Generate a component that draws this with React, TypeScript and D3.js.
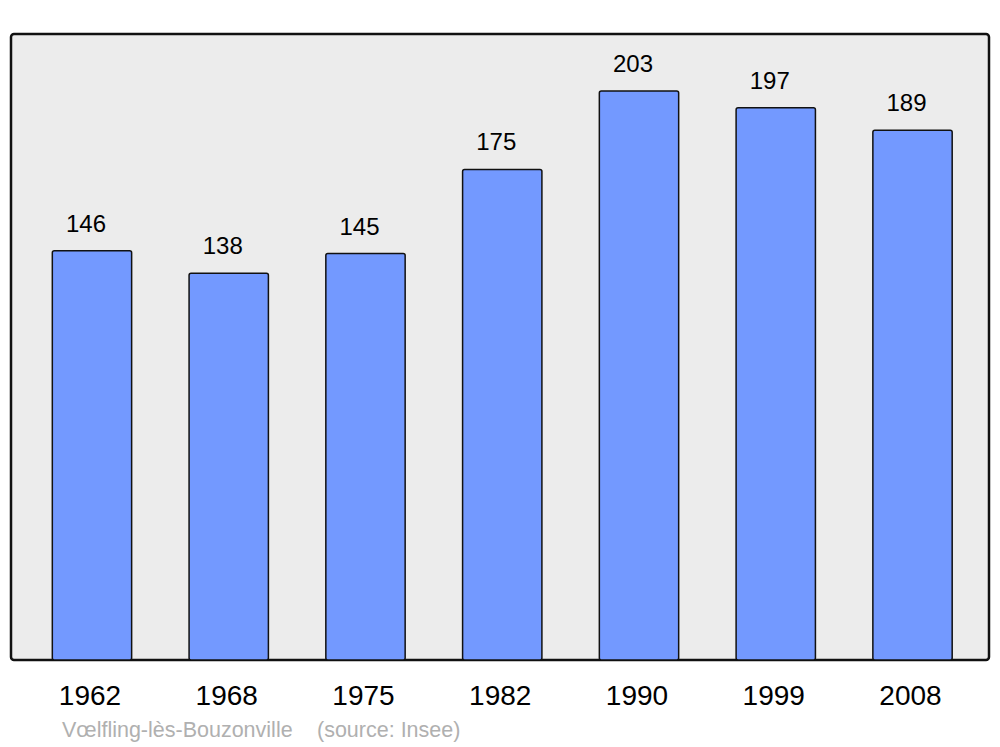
import React from "react";
import * as d3 from "d3";

const years = ["1962", "1968", "1975", "1982", "1990", "1999", "2008"];
const population = [146, 138, 145, 175, 203, 197, 189];
const townName = "Vœlfling-lès-Bouzonville";
const sourceText = "(source: Insee)";

export default function App() {
  const W = 1000, H = 747;
  const left = 11, right = 989, top = 34, bottom = 660;
  const x = d3.scaleBand<string>().domain(years).range([23.6, 980.9]).paddingInner(0.42).paddingOuter(0.21);
  const y = d3.scaleLinear().domain([0, 203 * 1.1]).range([bottom, top]);
  const font = "'Liberation Sans', Arial, sans-serif";
  return (
    <svg width={W} height={H} style={{ position: "absolute", left: 0, top: 0 }} fontFamily={font}>
      <rect x={0} y={0} width={W} height={H} fill="#ffffff" />
      <rect x={left} y={top} width={right - left} height={bottom - top} rx={3} fill="#ececec" stroke="#111" strokeWidth={2.5} />
      {years.map((yr, i) => {
        const bx = x(yr)!;
        const bw = x.bandwidth();
        const v = population[i];
        return (
          <g key={yr}>
            <rect x={bx} y={y(v)} width={bw} height={bottom - y(v)} rx={2} fill="#7399ff" stroke="#111" strokeWidth={1.5} />
            <text x={bx + bw / 2 - 6} y={y(v) - 19} textAnchor="middle" fontSize={24} fill="#000">{v}</text>
            <text x={bx + bw / 2 - 2} y={705} textAnchor="middle" fontSize={28} fill="#000">{yr}</text>
          </g>
        );
      })}
      <text x={62} y={737} fontSize={21.5} fill="#b0b0b0">{townName}</text>
      <text x={317} y={737} fontSize={21.5} fill="#b0b0b0">{sourceText}</text>
    </svg>
  );
}
